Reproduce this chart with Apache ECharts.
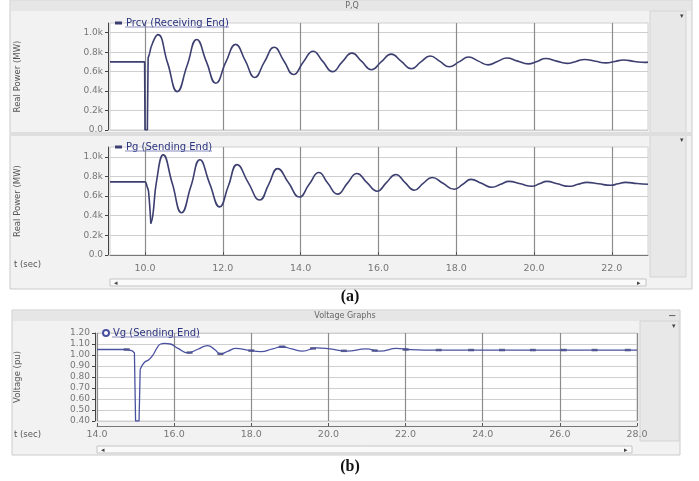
<!DOCTYPE html>
<html>
<head>
<meta charset="utf-8">
<script src="https://cdn.jsdelivr.net/npm/echarts@6/dist/echarts.min.js"></script>
<style>
  html, body { margin: 0; padding: 0; background: #fff; }
  #chart { width: 699px; height: 481px; }
</style>
</head>
<body>
<div id="chart"></div>
<script>
// tick positions
const timeTicksA = [10, 12, 14, 16, 18, 20, 22]
const timeTicksB = [14, 16, 18, 20, 22, 24, 26, 28]
const powerTicks = [0, 200, 400, 600, 800, 1000]
const voltTicks = [0.4, 0.5, 0.6, 0.7, 0.8, 0.9, 1.0, 1.1, 1.2]

// Prcv (Receiving End), MW: steady state + fault dip, then the swing
const prcvPre = [[9.1, 700], [9.99, 700], [10.0, 0], [10.06, 0], [10.08, 740], [10.12, 790]]
const prcv = [
  [10.12, 790], [10.2, 900],
  [10.33, 980], [10.58, 690], [10.83, 395], [11.08, 660], [11.33, 930], [11.58, 700],
  [11.82, 480], [12.08, 700], [12.33, 880], [12.58, 710], [12.82, 540], [13.07, 700],
  [13.32, 850], [13.57, 710], [13.82, 570], [14.07, 700], [14.32, 810], [14.57, 705],
  [14.82, 600], [15.07, 700], [15.32, 790], [15.57, 705], [15.82, 620], [16.07, 700],
  [16.33, 780], [16.59, 705], [16.85, 630], [17.09, 700], [17.33, 760], [17.58, 705],
  [17.82, 650], [18.07, 700], [18.32, 750], [18.57, 708], [18.82, 670], [19.06, 705],
  [19.3, 740], [19.58, 708], [19.85, 680], [20.08, 705], [20.3, 735], [20.58, 708],
  [20.85, 685], [21.08, 705], [21.3, 725], [21.58, 706], [21.85, 690], [22.08, 705],
  [22.3, 720], [22.58, 705], [22.85, 695], [22.93, 698]
]

// Pg (Sending End), MW
const pgPre = [[9.1, 745], [10.0, 745], [10.05, 700], [10.09, 650], [10.15, 320]]
const pg = [
  [10.15, 320], [10.2, 400],
  [10.3, 760], [10.47, 1020], [10.7, 730], [10.94, 430], [11.18, 700], [11.41, 970],
  [11.66, 730], [11.92, 490], [12.14, 700], [12.37, 920], [12.65, 740], [12.95, 560],
  [13.18, 720], [13.41, 880], [13.69, 735], [13.97, 590], [14.22, 720], [14.47, 840],
  [14.7, 730], [14.95, 620], [15.2, 730], [15.45, 830], [15.7, 740], [15.97, 650],
  [16.2, 735], [16.45, 820], [16.68, 740], [16.92, 660], [17.15, 730], [17.38, 790],
  [17.66, 730], [17.95, 670], [18.17, 720], [18.38, 770], [18.65, 730], [18.92, 690],
  [19.14, 720], [19.36, 750], [19.65, 725], [19.95, 700], [20.14, 725], [20.33, 750],
  [20.6, 725], [20.9, 700], [21.13, 720], [21.36, 740], [21.66, 725], [21.97, 710],
  [22.16, 725], [22.35, 740], [22.65, 728], [22.93, 720]
]

// Vg (Sending End), pu
const vgPre = [
  [14.0, 1.05], [14.75, 1.05], [14.9, 1.04], [14.97, 1.02], [15.0, 0.4], [15.09, 0.4],
  [15.12, 0.87]
]
const vg = [
  [15.12, 0.87], [15.22, 0.93], [15.35, 0.96], [15.45, 1.0], [15.55, 1.06], [15.65, 1.1],
  [15.75, 1.105], [15.9, 1.1], [16.1, 1.06], [16.36, 1.02], [16.6, 1.05], [16.87, 1.085],
  [17.05, 1.05], [17.2, 1.01], [17.4, 1.035], [17.6, 1.06], [17.9, 1.045], [18.25, 1.03],
  [18.55, 1.055], [18.8, 1.075], [19.05, 1.055], [19.33, 1.035], [19.69, 1.065],
  [20.04, 1.055], [20.47, 1.035], [20.98, 1.055], [21.33, 1.035], [21.77, 1.06],
  [22.07, 1.05], [22.5, 1.045], [23.5, 1.045], [28.0, 1.045]
]
const vgMarks = [
  [14.77, 1.05], [16.4, 1.022], [17.2, 1.01], [18.0, 1.04], [18.8, 1.075], [19.6, 1.06],
  [20.4, 1.038], [21.2, 1.04], [22.0, 1.05], [22.86, 1.045], [23.7, 1.045], [24.5, 1.045],
  [25.3, 1.045], [26.1, 1.045], [26.9, 1.045], [27.76, 1.045]
]

const FONT = 'DejaVu Sans'
const lineColor = '#3c3f70'

const chart = echarts.init(document.getElementById('chart'))

const kLabel = v => v === 0 ? '0.0' : (v / 1000).toFixed(1) + 'k'

const timeAxis = (grid, ticks, min, max, showLabel) => ({
  type: 'value', gridIndex: grid, min: min, max: max,
  offset: showLabel ? 5 : 0,
  axisLine: { show: showLabel, lineStyle: { color: '#777' } },
  axisTick: { show: showLabel, customValues: ticks, length: 3, inside: true, lineStyle: { color: '#555' } },
  axisLabel: { show: showLabel, customValues: ticks, formatter: v => v.toFixed(1),
    fontFamily: FONT, fontSize: 9.5, color: '#777', margin: 4 },
  splitLine: { show: true, lineStyle: { color: '#8c8c8c', width: 1.2 } }
})

const valAxis = (grid, ticks, min, max, fmt, name, gap) => ({
  type: 'value', gridIndex: grid, min: min, max: max, offset: 2,
  name: name, nameLocation: 'middle', nameGap: gap,
  nameTextStyle: { fontFamily: FONT, fontSize: 8.5, color: '#555' },
  axisLine: { show: true, lineStyle: { color: '#444' } },
  axisTick: { show: true, customValues: ticks, length: 3, lineStyle: { color: '#444' } },
  axisLabel: { customValues: ticks, formatter: fmt, fontFamily: FONT, fontSize: 9, color: '#777', margin: 5 },
  splitLine: { show: true, lineStyle: { color: '#cfcfcf' } }
})

const legendCfg = (name, left, top, icon) => ({
  data: [name], left: left, top: top, itemWidth: icon === 'rect' ? 7 : 6,
  itemHeight: icon === 'rect' ? 3 : 6, icon: icon, itemGap: 4,
  textStyle: { fontFamily: FONT, fontSize: 10, color: '#2c3580', padding: [0, 0, 0, -1] }
})

const line = (name, xi, data, smooth, color, width) => ({
  name: name, type: 'line', xAxisIndex: xi, yAxisIndex: xi, data: data,
  showSymbol: false, smooth: smooth,
  itemStyle: { color: color }, lineStyle: { color: color, width: width }
})

const option = {
  animation: false,
  backgroundColor: '#fff',
  grid: [
    { left: 110, top: 23, width: 538, height: 107, show: true, backgroundColor: '#fff', borderColor: '#d0d0d0' },
    { left: 110, top: 147, width: 538, height: 108, show: true, backgroundColor: '#fff', borderColor: '#d0d0d0' },
    { left: 97, top: 333, width: 540, height: 88, show: true, backgroundColor: '#fff', borderColor: '#d0d0d0' }
  ],
  xAxis: [
    timeAxis(0, timeTicksA, 9.1, 22.93, false),
    timeAxis(1, timeTicksA, 9.1, 22.93, true),
    timeAxis(2, timeTicksB, 14, 28, true)
  ],
  yAxis: [
    valAxis(0, powerTicks, 0, 1100, kLabel, 'Real Power (MW)', 86),
    valAxis(1, powerTicks, 0, 1100, kLabel, 'Real Power (MW)', 86),
    valAxis(2, voltTicks, 0.4, 1.2, v => v.toFixed(2), 'Voltage (pu)', 73)
  ],
  legend: [
    legendCfg('Prcv (Receiving End)', 110, 13, 'rect'),
    legendCfg('Pg (Sending End)', 110, 137, 'rect'),
    legendCfg('Vg (Sending End)', 97, 323, 'emptyCircle')
  ],
  graphic: [
    // panel (a) frame
    { type: 'rect', z: -10, shape: { x: 10, y: 0, width: 682, height: 289 }, style: { fill: '#f2f2f2', stroke: '#cbcbcb' } },
    { type: 'rect', z: -9, shape: { x: 11, y: 1, width: 680, height: 10 }, style: { fill: '#e6e6e6' } },
    { type: 'text', z: 5, style: { text: 'P,Q', x: 352, y: 6, align: 'center', verticalAlign: 'middle', font: '8px "DejaVu Sans"', fill: '#666' } },
    { type: 'rect', z: -9, shape: { x: 650, y: 11, width: 36, height: 266 }, style: { fill: '#e8e8e8', stroke: '#d4d4d4' } },
    { type: 'rect', z: -9, shape: { x: 11, y: 132, width: 680, height: 4 }, style: { fill: '#dedede' } },
    { type: 'text', z: 5, style: { text: 't (sec)', x: 14, y: 265, verticalAlign: 'middle', font: '8.5px "DejaVu Sans"', fill: '#555' } },
    { type: 'rect', z: -5, shape: { x: 110, y: 279, width: 536, height: 7 }, style: { fill: '#fafafa', stroke: '#c4c4c4' } },
    { type: 'text', z: 5, style: { text: '◂', x: 114, y: 283, verticalAlign: 'middle', font: '7px "DejaVu Sans"', fill: '#444' } },
    { type: 'text', z: 5, style: { text: '▸', x: 637, y: 283, verticalAlign: 'middle', font: '7px "DejaVu Sans"', fill: '#444' } },
    { type: 'text', z: 5, style: { text: '▾', x: 680, y: 16, verticalAlign: 'middle', font: '7px "DejaVu Sans"', fill: '#444' } },
    { type: 'text', z: 5, style: { text: '▾', x: 680, y: 140, verticalAlign: 'middle', font: '7px "DejaVu Sans"', fill: '#444' } },
    // legend underlines
    { type: 'line', z: 5, shape: { x1: 125, y1: 27, x2: 229, y2: 27 }, style: { stroke: '#6a70a8', lineWidth: 0.8 } },
    { type: 'line', z: 5, shape: { x1: 125, y1: 151, x2: 212, y2: 151 }, style: { stroke: '#6a70a8', lineWidth: 0.8 } },
    { type: 'line', z: 5, shape: { x1: 112, y1: 337, x2: 200, y2: 337 }, style: { stroke: '#6a70a8', lineWidth: 0.8 } },
    // captions
    { type: 'text', z: 5, style: { text: '(a)', x: 350, y: 297, align: 'center', verticalAlign: 'middle', font: 'bold 16px "Liberation Serif"', fill: '#111' } },
    { type: 'text', z: 5, style: { text: '(b)', x: 350, y: 467, align: 'center', verticalAlign: 'middle', font: 'bold 16px "Liberation Serif"', fill: '#111' } },
    // panel (b) frame
    { type: 'rect', z: -10, shape: { x: 12, y: 310, width: 668, height: 145 }, style: { fill: '#f2f2f2', stroke: '#cbcbcb' } },
    { type: 'rect', z: -9, shape: { x: 13, y: 311, width: 666, height: 10 }, style: { fill: '#e6e6e6' } },
    { type: 'text', z: 5, style: { text: 'Voltage Graphs', x: 345, y: 316, align: 'center', verticalAlign: 'middle', font: '8px "DejaVu Sans"', fill: '#666' } },
    { type: 'text', z: 5, style: { text: '−', x: 668, y: 316, verticalAlign: 'middle', font: '10px "DejaVu Sans"', fill: '#444' } },
    { type: 'rect', z: -9, shape: { x: 640, y: 321, width: 39, height: 120 }, style: { fill: '#e8e8e8', stroke: '#d4d4d4' } },
    { type: 'text', z: 5, style: { text: '▾', x: 672, y: 326, verticalAlign: 'middle', font: '7px "DejaVu Sans"', fill: '#444' } },
    { type: 'text', z: 5, style: { text: 't (sec)', x: 14, y: 435, verticalAlign: 'middle', font: '8.5px "DejaVu Sans"', fill: '#555' } },
    { type: 'rect', z: -5, shape: { x: 97, y: 446, width: 535, height: 7 }, style: { fill: '#fafafa', stroke: '#c4c4c4' } },
    { type: 'text', z: 5, style: { text: '◂', x: 101, y: 450, verticalAlign: 'middle', font: '7px "DejaVu Sans"', fill: '#444' } },
    { type: 'text', z: 5, style: { text: '▸', x: 624, y: 450, verticalAlign: 'middle', font: '7px "DejaVu Sans"', fill: '#444' } }
  ],
  series: [
    line('Prcv (Receiving End)', 0, prcvPre, false, lineColor, 1.6),
    line('Prcv (Receiving End)', 0, prcv, 0.5, lineColor, 1.6),
    line('Pg (Sending End)', 1, pgPre, 0.3, lineColor, 1.6),
    line('Pg (Sending End)', 1, pg, 0.5, lineColor, 1.6),
    line('Vg (Sending End)', 2, vgPre, false, '#4a52a0', 1.3),
    line('Vg (Sending End)', 2, vg, 0.5, '#4a52a0', 1.3),
    {
      type: 'scatter', xAxisIndex: 2, yAxisIndex: 2, data: vgMarks,
      symbol: 'rect', symbolSize: [6, 2.5], itemStyle: { color: '#3a3f66' }
    }
  ]
}

chart.setOption(option)
</script>
</body>
</html>
